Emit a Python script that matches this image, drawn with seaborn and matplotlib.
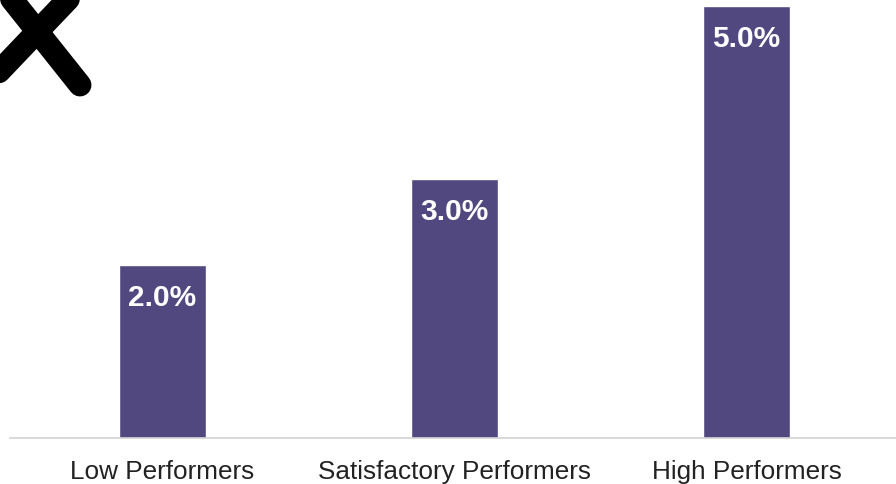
import matplotlib
matplotlib.use("Agg")
import matplotlib.pyplot as plt
from matplotlib.lines import Line2D
import seaborn as sns
import pandas as pd

# Merit increase by performance group
categories = ["Low Performers", "Satisfactory Performers", "High Performers"]
values = [2.0, 3.0, 5.0]
value_labels = ["2.0%", "3.0%", "5.0%"]

BAR_COLOR = "#51487f"

sns.set_theme(style="white")
plt.rcParams["font.family"] = ["Liberation Sans", "DejaVu Sans"]

df = pd.DataFrame({"group": categories, "increase": values})

fig = plt.figure(figsize=(8.96, 4.85), dpi=100)
ax = fig.add_axes([10 / 896, 46 / 485, 886 / 896, 439 / 485])

sns.barplot(data=df, x="group", y="increase", color=BAR_COLOR, saturation=1,
            width=0.3, ax=ax)

ax.set_xlim(-0.522, 2.512)
ax.set_ylim(0, 5.08)

for i, (v, lab) in enumerate(zip(values, value_labels)):
    ax.annotate(lab, xy=(i, v), xytext=(0, -13), textcoords="offset points",
                ha="center", va="top", color="white", fontsize=21.5,
                fontweight="bold")

for side in ["left", "right", "top"]:
    ax.spines[side].set_visible(False)
ax.spines["bottom"].set_color("#d3d3d3")
ax.spines["bottom"].set_linewidth(1.2)

ax.set_yticks([])
ax.set_xlabel("")
ax.set_ylabel("")
ax.tick_params(axis="x", length=0, pad=15, labelsize=18.8, colors="#222222")

# spray-painted cross in the upper-left corner
W, H = 896, 485
def fig_pt(x, y):
    return x / W, 1 - y / H

strokes = [((2, -12), (80, 86)), ((76, -8), (-6, 78))]
for (x0, y0), (x1, y1) in strokes:
    a, b = fig_pt(x0, y0)
    c, d = fig_pt(x1, y1)
    fig.add_artist(Line2D([a, c], [b, d], transform=fig.transFigure,
                          color="black", linewidth=16.5,
                          solid_capstyle="round"))

fig.savefig("out.png", dpi=100, facecolor="white")
